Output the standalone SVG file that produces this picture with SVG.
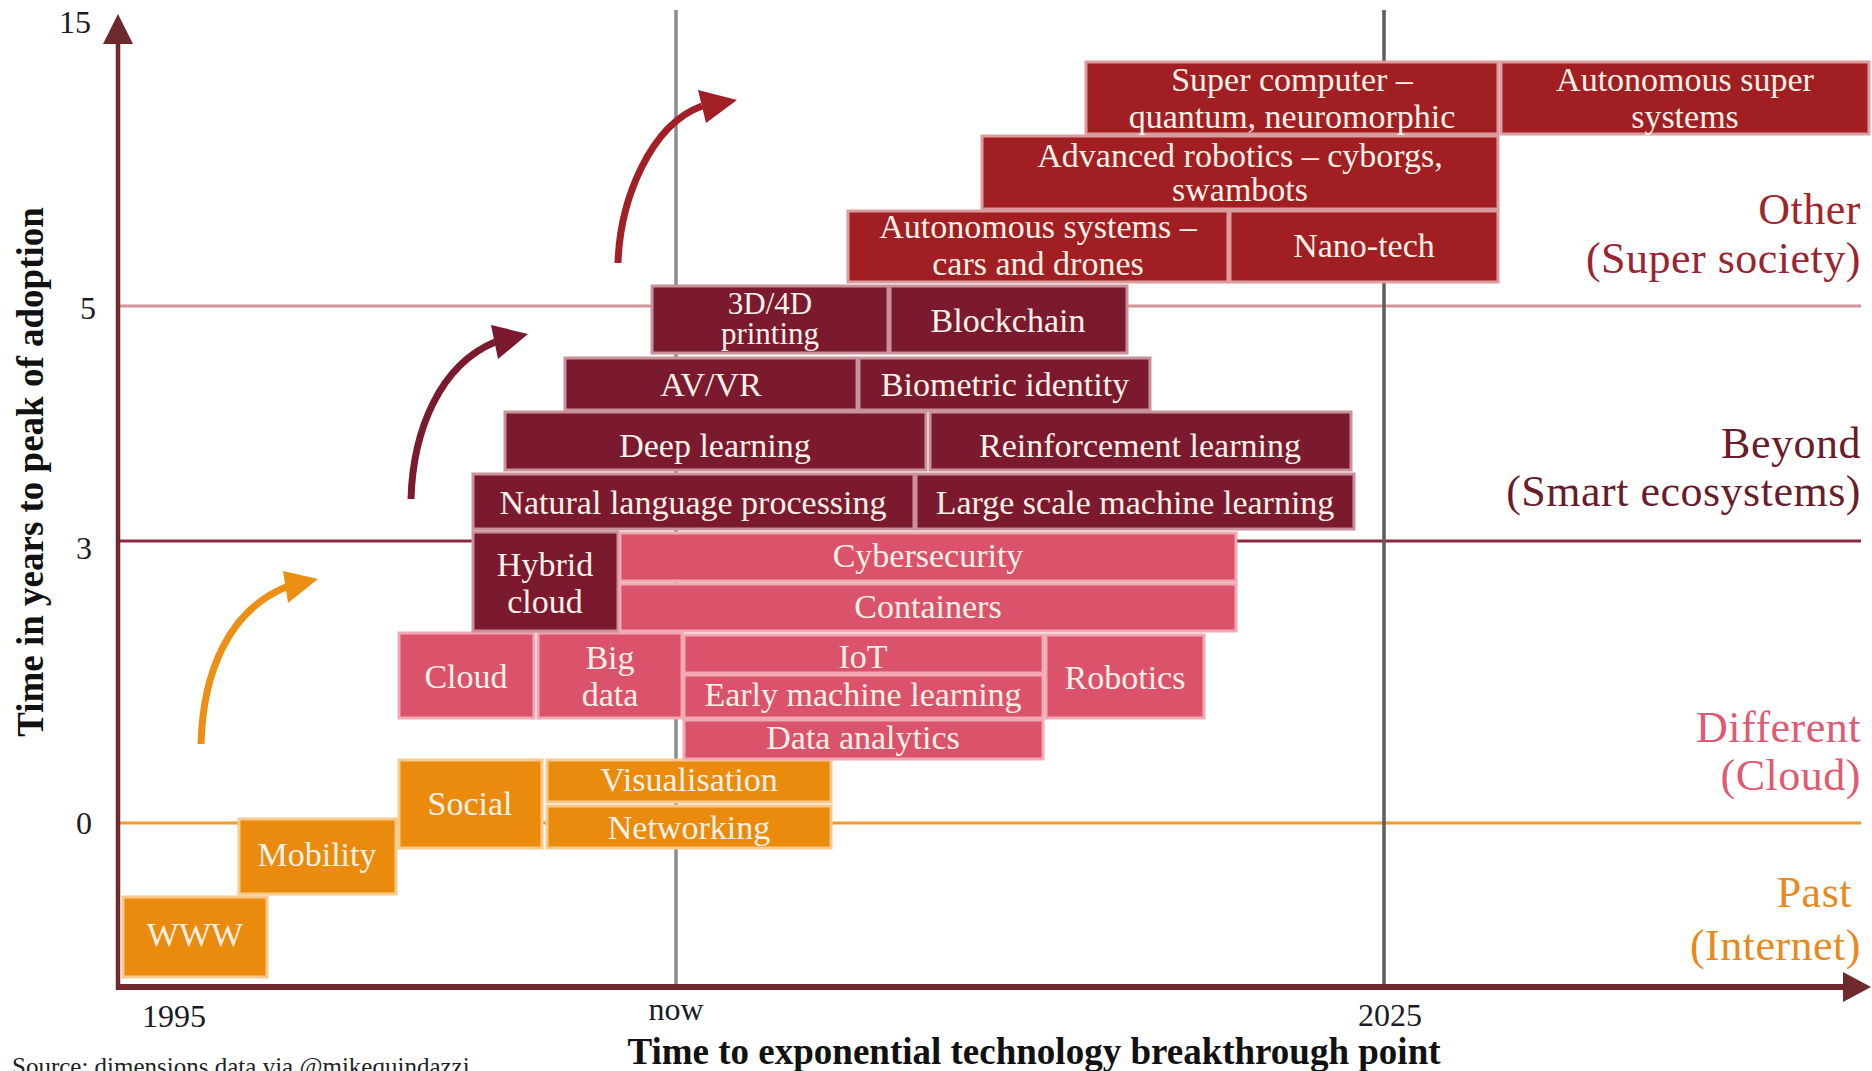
<svg xmlns="http://www.w3.org/2000/svg" width="1872" height="1071" viewBox="0 0 1872 1071">
<style>
text{font-family:"Liberation Serif","Times New Roman",serif}
.nd text{font-size:34px;fill:#fdf1e8;text-anchor:middle}
.o rect{fill:#ea8b0d;stroke:#f7c98c;stroke-width:3}
.p rect{fill:#db536a;stroke:#f1a9b3;stroke-width:3}
.m rect{fill:#7b1a2e;stroke:#c9919b;stroke-width:3}
.r rect{fill:#a11f22;stroke:#dc9c9e;stroke-width:3}
.tick{font-size:32px;fill:#1b1b28;text-anchor:middle}
.ttl{font-size:37px;font-weight:bold;fill:#111;text-anchor:middle}
.lab{font-size:44px;text-anchor:end;letter-spacing:0.5px}
.arr{fill:none;stroke-width:7;stroke-linecap:butt}
</style>
<rect width="1872" height="1071" fill="#ffffff"/>
<g id="grid">
<line x1="118" y1="306" x2="1861" y2="306" stroke="#d4959a" stroke-width="3"/>
<line x1="118" y1="541" x2="1861" y2="541" stroke="#8b2a3e" stroke-width="3"/>
<line x1="118" y1="823" x2="1861" y2="823" stroke="#ef9a2a" stroke-width="3"/>
<line x1="676" y1="10" x2="676" y2="987" stroke="#8c8c8c" stroke-width="3.5"/>
<line x1="1384" y1="10" x2="1384" y2="987" stroke="#5e5e5e" stroke-width="3.5"/>
</g>
<g id="axes">
<line x1="118" y1="40" x2="118" y2="990" stroke="#6e2a2e" stroke-width="4.5"/>
<polygon points="118,14 103,44 133,44" fill="#6e2a2e"/>
<line x1="116" y1="987" x2="1846" y2="987" stroke="#6e2a2e" stroke-width="6"/>
<polygon points="1871,987 1843,972 1843,1002" fill="#6e2a2e"/>
<text class="tick" x="75" y="33">15</text>
<text class="tick" x="88" y="319">5</text>
<text class="tick" x="84" y="559">3</text>
<text class="tick" x="84" y="834">0</text>
<text class="tick" x="174" y="1027">1995</text>
<text class="tick" x="676" y="1020">now</text>
<text class="tick" x="1390" y="1026">2025</text>
<text class="ttl" x="1034" y="1064">Time to exponential technology breakthrough point</text>
<text class="ttl" transform="translate(43,472) rotate(-90)">Time in years to peak of adoption</text>
<text x="12" y="1075" font-size="25" fill="#222">Source: dimensions data via @mikequindazzi</text>
</g>
<g id="era-labels">
<text class="lab" x="1861" y="224" fill="#a1262a">Other</text>
<text class="lab" x="1861" y="273" fill="#9a2530">(Super society)</text>
<text class="lab" x="1861" y="458" fill="#6a1c2a">Beyond</text>
<text class="lab" x="1861" y="506" fill="#6a1c2a">(Smart ecosystems)</text>
<text class="lab" x="1861" y="742" fill="#df5a72">Different</text>
<text class="lab" x="1861" y="790" fill="#df5a72">(Cloud)</text>
<text class="lab" x="1852" y="907" fill="#e8891c">Past</text>
<text class="lab" x="1861" y="960" fill="#e8891c">(Internet)</text>
</g>
<g id="connectors">
<path class="arr" d="M201,744 C203,670 230,610 286,587" stroke="#ec8f12"/>
<polygon points="283,571 318,579 288,603" fill="#ec8f12"/>
<path class="arr" d="M411,499 C413,430 440,365 495,342" stroke="#7b1a2e"/>
<polygon points="491,325 528,334 498,359" fill="#7b1a2e"/>
<path class="arr" d="M618,263 C620,200 650,125 702,106" stroke="#a11f25"/>
<polygon points="698,90 737,100 706,123" fill="#a11f25"/>
</g>
<g id="n-www" class="nd o"><rect x="123" y="897" width="144" height="80"/><text x="195" y="946">WWW</text></g>
<g id="n-mobility" class="nd o"><rect x="239" y="819" width="157" height="75"/><text x="317" y="866">Mobility</text></g>
<g id="n-social" class="nd o"><rect x="399" y="760" width="143" height="88"/><text x="470" y="815">Social</text></g>
<g id="n-visualisation" class="nd o"><rect x="547" y="760" width="284" height="42"/><text x="689" y="791">Visualisation</text></g>
<g id="n-networking" class="nd o"><rect x="547" y="806" width="284" height="42"/><text x="689" y="839">Networking</text></g>
<g id="n-cloud" class="nd p"><rect x="399" y="633" width="135" height="85"/><text x="466" y="688">Cloud</text></g>
<g id="n-bigdata" class="nd p"><rect x="538" y="633" width="144" height="85"/><text x="610" y="669">Big</text><text x="610" y="706">data</text></g>
<g id="n-iot" class="nd p"><rect x="684" y="635" width="359" height="38"/><text x="863" y="668">IoT</text></g>
<g id="n-earlyml" class="nd p"><rect x="684" y="675" width="359" height="43"/><text x="863" y="706">Early machine learning</text></g>
<g id="n-dataanalytics" class="nd p"><rect x="684" y="720" width="359" height="39"/><text x="863" y="749">Data analytics</text></g>
<g id="n-robotics" class="nd p"><rect x="1046" y="635" width="158" height="83"/><text x="1125" y="689">Robotics</text></g>
<g id="n-hybridcloud" class="nd m"><rect x="473" y="532" width="145" height="99"/><text x="545" y="576">Hybrid</text><text x="545" y="613">cloud</text></g>
<g id="n-cybersecurity" class="nd p"><rect x="620" y="533" width="616" height="48"/><text x="928" y="567">Cybersecurity</text></g>
<g id="n-containers" class="nd p"><rect x="620" y="584" width="616" height="47"/><text x="928" y="618">Containers</text></g>
<g id="n-nlp" class="nd m"><rect x="473" y="474" width="441" height="55"/><text x="693" y="514">Natural language processing</text></g>
<g id="n-lsml" class="nd m"><rect x="916" y="474" width="438" height="55"/><text x="1135" y="514">Large scale machine learning</text></g>
<g id="n-deeplearning" class="nd m"><rect x="505" y="412" width="421" height="58"/><text x="715" y="457">Deep learning</text></g>
<g id="n-reinforcement" class="nd m"><rect x="930" y="412" width="421" height="58"/><text x="1140" y="457">Reinforcement learning</text></g>
<g id="n-avvr" class="nd m"><rect x="565" y="358" width="292" height="52"/><text x="711" y="396">AV/VR</text></g>
<g id="n-biometric" class="nd m"><rect x="859" y="358" width="291" height="52"/><text x="1005" y="396">Biometric identity</text></g>
<g id="n-3d4d" class="nd m"><rect x="652" y="286" width="236" height="67"/><text x="770" y="314" style="font-size:31px">3D/4D</text><text x="770" y="344" style="font-size:31px">printing</text></g>
<g id="n-blockchain" class="nd m"><rect x="890" y="286" width="237" height="67"/><text x="1008" y="332">Blockchain</text></g>
<g id="n-autosystems" class="nd r"><rect x="848" y="211" width="380" height="71"/><text x="1038" y="238">Autonomous systems –</text><text x="1038" y="275">cars and drones</text></g>
<g id="n-nanotech" class="nd r"><rect x="1230" y="211" width="268" height="71"/><text x="1364" y="257">Nano-tech</text></g>
<g id="n-advrobotics" class="nd r"><rect x="982" y="136" width="516" height="73"/><text x="1240" y="167">Advanced robotics – cyborgs,</text><text x="1240" y="201">swambots</text></g>
<g id="n-supercomputer" class="nd r"><rect x="1086" y="62" width="412" height="72"/><text x="1292" y="91">Super computer –</text><text x="1292" y="128">quantum, neuromorphic</text></g>
<g id="n-autosuper" class="nd r"><rect x="1501" y="62" width="368" height="72"/><text x="1685" y="91">Autonomous super</text><text x="1685" y="128">systems</text></g>
</svg>
